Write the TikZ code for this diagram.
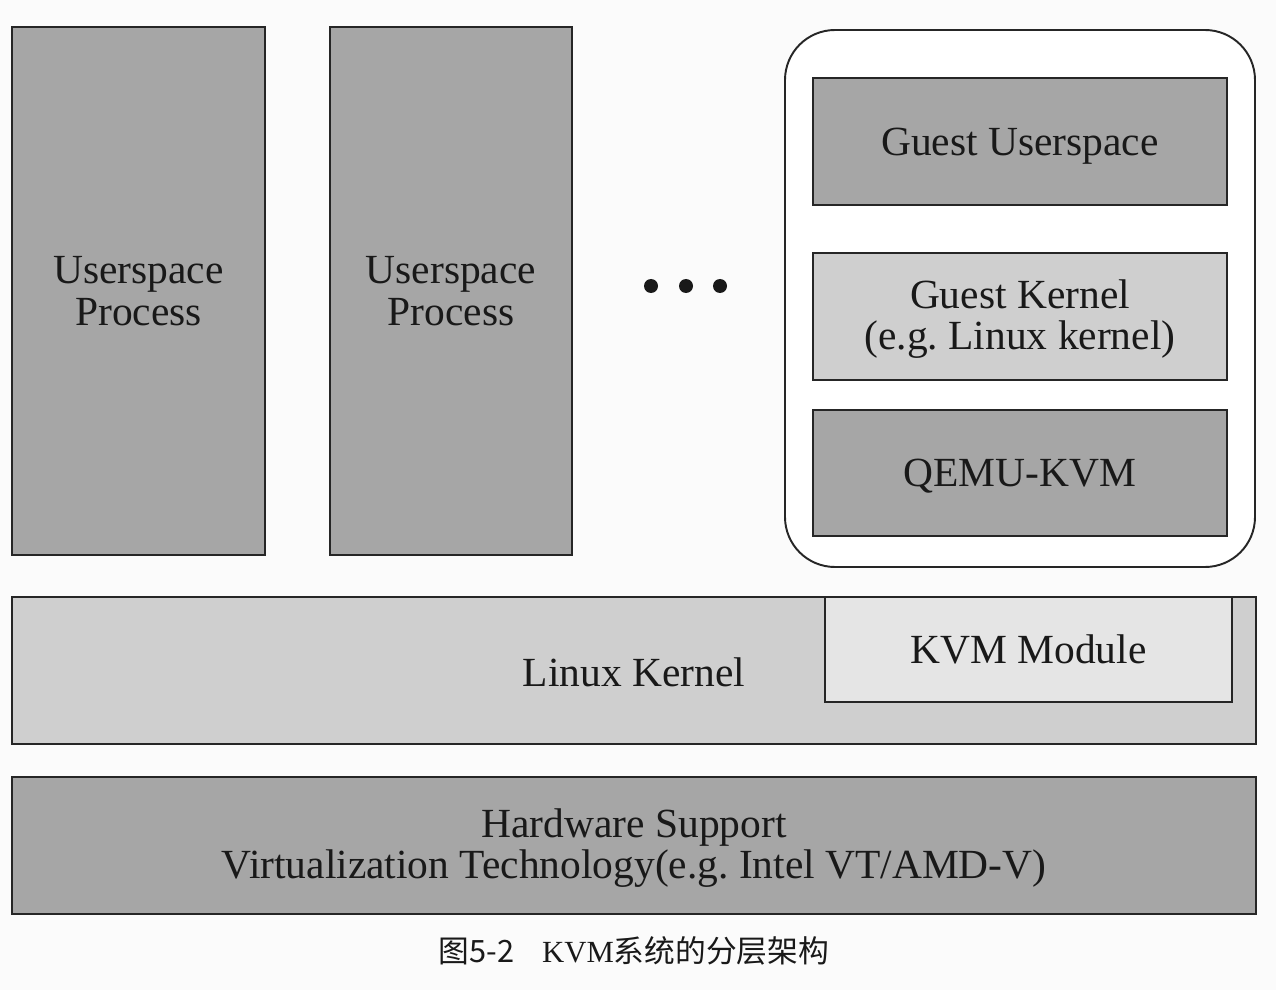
\documentclass[tikz,border=0pt]{standalone}
\usepackage{fontspec}
\setmainfont{Liberation Serif}
\newfontfamily\cjk{Noto Sans CJK SC}
\usepackage{xcolor}
\usetikzlibrary{calc}
\frenchspacing
\definecolor{boxdark}{HTML}{A6A6A6}
\definecolor{boxmid}{HTML}{CFCFCF}
\definecolor{boxlight}{HTML}{E5E5E5}
\definecolor{kertas}{HTML}{FBFBFB}
\tikzset{
  garis/.style={draw=black!85, line width=1.3pt},
  tulisan/.style={font=\fontsize{23.6}{23.6}\selectfont, align=center, text=black!90},
}

\begin{document}
\begin{tikzpicture}[x=0.02cm, y=-0.02cm]
    %LATAR
    \fill[kertas] (0,0) rectangle (1276,990);
    \useasboundingbox (0,0) rectangle (1276,990);
    %PROSES
    \draw[garis, fill=boxdark] (12,27) rectangle (265,555) node[midway, tulisan] (up1) {Userspace\\Process};
    \draw[garis, fill=boxdark] (330,27) rectangle (572,555) node[midway, tulisan] (up2) {Userspace\\Process};
    %TITIK
    \foreach \x in {651,686,720}
        \fill[black!90] (\x,286) circle (7);
    %TAMU
    \draw[black!85, line width=1.1pt, fill=white, rounded corners=1cm] (785,30) rectangle (1255,567);
    \draw[garis, fill=boxdark] (813,78) rectangle (1227,205) node[midway, tulisan, yshift=-0.1cm] (gus) {Guest Userspace};
    \draw[garis, fill=boxmid] (813,253) rectangle (1227,380) node[midway, tulisan, yshift=-0.05cm] (gk) {Guest Kernel\\(e.g. Linux kernel)};
    \draw[garis, fill=boxdark] (813,410) rectangle (1227,536) node[midway, tulisan, yshift=-0.07cm] (qemu) {QEMU-KVM};
    %KERNEL
    \draw[garis, fill=boxmid] (12,597) rectangle (1256,744);
    \node[tulisan] (lk) at (634,672) {Linux Kernel};
    \draw[garis, fill=boxlight] (825,597) rectangle (1232,702) node[midway, tulisan] (kvm) {KVM Module};
    %HARDWARE
    \draw[garis, fill=boxdark] (12,777) rectangle (1256,914) node[midway, tulisan, yshift=-0.05cm] (hw) {Hardware Support\\Virtualization Technology(e.g. Intel VT/AMD-V)};
    %JUDUL
    \node[font=\fontsize{17.5}{19}\selectfont, text=black!90] (judul) at (634,951) {{\cjk 图5-2}\hspace{0.9em}KVM{\cjk 系统的分层架构}};
\end{tikzpicture}
\end{document}
